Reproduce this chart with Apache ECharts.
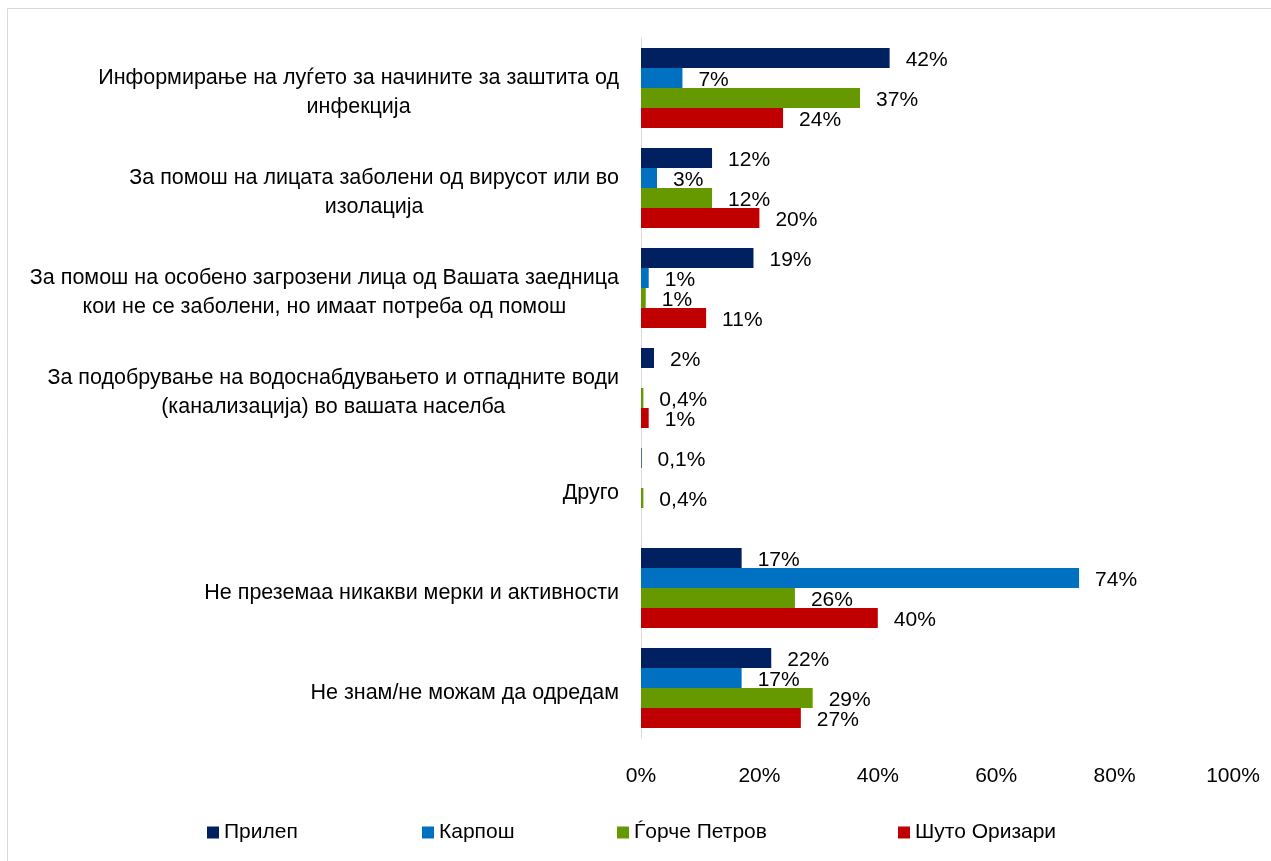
<!DOCTYPE html>
<html>
    <head>
        <meta charset="utf-8">
        <title>ECharts</title>
        <script src="https://cdn.jsdelivr.net/npm/echarts@6/dist/echarts.min.js"></script>
        <style>
            body { margin: 0; background: #fff; }
        </style>
    </head>
    <body>
        <div id="main" style="width: 1271px;height:861px;"></div>
        <script type="text/javascript">
            // categories (top to bottom)
            var categories = [
                'Информирање на луѓето за начините за заштита од\nинфекција',
                'За помош на лицата заболени од вирусот или во\nизолација',
                'За помош на особено загрозени лица од Вашата заедница\nкои не се заболени, но имаат потреба од помош',
                'За подобрување на водоснабдувањето и отпадните води\n(канализација) во вашата населба',
                'Друго',
                'Не преземаа никакви мерки и активности',
                'Не знам/не можам да одредам'
            ];

            var seriesNames = ['Прилеп', 'Карпош', 'Ѓорче Петров', 'Шуто Оризари'];

            // values in %, null = no answer
            var prilep = [42, 12, 19, 2.2, 0.1, 17, 22];
            var karpos = [7, 2.7, 1.3, null, null, 74, 17];
            var gjorce = [37, 12, 0.8, 0.4, 0.4, 26, 29];
            var shuto = [24, 20, 11, 1.3, null, 40, 27];

            var xTicks = [0, 20, 40, 60, 80, 100];

            var colors = ['#002060', '#0070C0', '#669900', '#C00000'];
            var legendX = [202, 417, 612, 893];

            var myChart = echarts.init(document.getElementById('main'));

            // whole percents, except the very small ones (0,1% / 0,4%)
            function fmt(v) {
                if (v >= 0.5) return Math.round(v) + '%';
                return String(v).replace('.', ',') + '%';
            }

            var font = 'Liberation Sans';

            var option = {
                color: colors,
                animation: false,
                textStyle: { fontFamily: font },
                graphic: [{
                    type: 'rect',
                    shape: { x: 7.5, y: 8.5, width: 1270, height: 900 },
                    style: { fill: null, stroke: '#d9d9d9', lineWidth: 1 },
                    silent: true
                }],
                legend: seriesNames.map(function (n, i) {
                    return {
                        data: [n],
                        left: legendX[i],
                        top: 817,
                        itemWidth: 12,
                        itemHeight: 12,
                        itemGap: 6,
                        icon: 'rect',
                        textStyle: { fontFamily: font, fontSize: 21, color: '#000' }
                    };
                }),
                grid: {
                    left: 641,
                    right: 38,
                    top: 38,
                    height: 700
                },
                xAxis: {
                    type: 'value',
                    min: 0,
                    max: 100,
                    interval: 20,
                    axisLine: { show: false },
                    axisTick: { show: false },
                    splitLine: { show: false },
                    axisLabel: {
                        margin: 28,
                        fontSize: 21,
                        color: '#000',
                        fontFamily: font,
                        formatter: function (v) {
                            return xTicks.indexOf(v) >= 0 ? v + '%' : '';
                        }
                    }
                },
                yAxis: {
                    type: 'category',
                    inverse: true,
                    data: categories,
                    axisLine: { show: true, lineStyle: { color: '#d9d9d9', width: 1 } },
                    axisTick: { show: false },
                    axisLabel: {
                        margin: 22,
                        align: 'right',
                        padding: [10, 0, 0, 0],
                        formatter: function (v) {
                            return v.split('\n').map(function (l) {
                                return '{c|' + l + '}';
                            }).join('\n');
                        },
                        rich: {
                            c: {
                                align: 'center',
                                fontSize: 21.5,
                                lineHeight: 29,
                                color: '#000',
                                fontFamily: font
                            }
                        }
                    }
                },
                series: [prilep, karpos, gjorce, shuto].map(function (d, i) {
                    return {
                        name: seriesNames[i],
                        type: 'bar',
                        data: d,
                        barGap: '0%',
                        barCategoryGap: '20%',
                        label: {
                            show: true,
                            position: 'right',
                            distance: 16,
                            offset: [0, 2],
                            fontSize: 21,
                            color: '#000',
                            fontFamily: font,
                            formatter: function (p) {
                                return p.value == null ? '' : fmt(p.value);
                            }
                        }
                    };
                })
            };

            myChart.setOption(option);
        </script>
    </body>
</html>
